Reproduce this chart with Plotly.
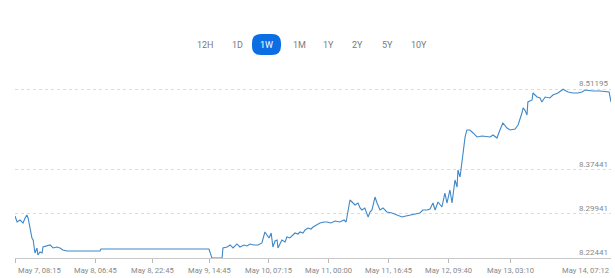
import plotly.graph_objects as go

# ---------------- data ----------------
times = [
    "2024-05-07 08:15", "2024-05-07 08:50", "2024-05-07 09:40", "2024-05-07 10:30",
    "2024-05-07 11:05", "2024-05-07 11:35", "2024-05-07 11:55", "2024-05-07 12:25",
    "2024-05-07 13:00", "2024-05-07 13:20", "2024-05-07 13:35", "2024-05-07 13:50",
    "2024-05-07 14:25", "2024-05-07 14:40", "2024-05-07 15:15", "2024-05-07 15:50",
    "2024-05-07 16:05", "2024-05-07 17:15", "2024-05-07 18:05", "2024-05-07 18:55",
    "2024-05-07 20:00", "2024-05-07 20:50", "2024-05-07 21:40", "2024-05-07 22:50",
    "2024-05-08 08:05", "2024-05-08 08:20", "2024-05-09 14:35", "2024-05-09 15:25",
    "2024-05-09 18:15", "2024-05-09 18:30", "2024-05-09 19:40", "2024-05-09 20:30",
    "2024-05-09 21:20", "2024-05-09 22:25", "2024-05-09 23:15", "2024-05-10 00:25",
    "2024-05-10 01:15", "2024-05-10 02:05", "2024-05-10 03:10", "2024-05-10 04:20",
    "2024-05-10 05:25", "2024-05-10 06:15", "2024-05-10 06:50", "2024-05-10 07:25",
    "2024-05-10 08:00", "2024-05-10 08:30", "2024-05-10 09:05", "2024-05-10 09:40",
    "2024-05-10 09:55", "2024-05-10 10:30", "2024-05-10 11:00", "2024-05-10 11:55",
    "2024-05-10 12:25", "2024-05-10 13:15", "2024-05-10 13:50", "2024-05-10 14:40",
    "2024-05-10 15:30", "2024-05-10 16:05", "2024-05-10 16:55", "2024-05-10 17:30",
    "2024-05-10 18:20", "2024-05-10 19:10", "2024-05-10 19:45", "2024-05-10 20:50",
    "2024-05-10 21:40", "2024-05-10 22:50", "2024-05-10 23:40", "2024-05-11 00:45",
    "2024-05-11 01:55", "2024-05-11 03:15", "2024-05-11 04:25", "2024-05-11 05:00",
    "2024-05-11 05:30", "2024-05-11 06:05", "2024-05-11 06:40", "2024-05-11 07:30",
    "2024-05-11 08:20", "2024-05-11 08:55", "2024-05-11 09:25", "2024-05-11 10:15",
    "2024-05-11 11:10", "2024-05-11 11:40", "2024-05-11 12:15", "2024-05-11 12:50",
    "2024-05-11 13:05", "2024-05-11 13:40", "2024-05-11 14:30", "2024-05-11 15:20",
    "2024-05-11 16:25", "2024-05-11 17:50", "2024-05-11 19:15", "2024-05-11 20:40",
    "2024-05-11 21:45", "2024-05-11 22:55", "2024-05-12 00:20", "2024-05-12 01:40",
    "2024-05-12 02:30", "2024-05-12 03:40", "2024-05-12 04:30", "2024-05-12 05:20",
    "2024-05-12 05:55", "2024-05-12 06:45", "2024-05-12 07:50", "2024-05-12 08:40",
    "2024-05-12 09:15", "2024-05-12 10:05", "2024-05-12 10:40", "2024-05-12 11:30",
    "2024-05-12 12:05", "2024-05-12 12:20", "2024-05-12 12:55", "2024-05-12 13:30",
    "2024-05-12 13:45", "2024-05-12 14:20", "2024-05-12 14:50", "2024-05-12 15:40",
    "2024-05-12 16:35", "2024-05-12 17:40", "2024-05-12 19:05", "2024-05-12 20:30",
    "2024-05-12 21:20", "2024-05-12 22:10", "2024-05-12 23:15", "2024-05-13 00:05",
    "2024-05-13 00:55", "2024-05-13 02:05", "2024-05-13 02:55", "2024-05-13 04:20",
    "2024-05-13 05:10", "2024-05-13 06:15", "2024-05-13 06:35", "2024-05-13 07:05",
    "2024-05-13 07:40", "2024-05-13 07:55", "2024-05-13 09:05", "2024-05-13 09:20",
    "2024-05-13 10:30", "2024-05-13 11:20", "2024-05-13 11:50", "2024-05-13 12:45",
    "2024-05-13 14:05", "2024-05-13 14:55", "2024-05-13 16:20", "2024-05-13 17:30",
    "2024-05-13 17:45", "2024-05-13 19:10", "2024-05-13 20:35", "2024-05-13 21:55",
    "2024-05-13 23:05", "2024-05-13 23:55", "2024-05-14 02:10", "2024-05-14 04:05",
    "2024-05-14 06:05", "2024-05-14 06:40", "2024-05-14 07:12",
]
rates = [
    8.2960, 8.2857, 8.2891, 8.2840,
    8.2926, 8.2977, 8.2926, 8.2755,
    8.2585, 8.2551, 8.2432, 8.2329,
    8.2415, 8.2295, 8.2346, 8.2329,
    8.2432, 8.2449, 8.2466, 8.2415,
    8.2432, 8.2415, 8.2380, 8.2363,
    8.2363, 8.2397, 8.2397, 8.22441,
    8.22441, 8.2415, 8.2432, 8.2466,
    8.2415, 8.2483, 8.2432, 8.2466,
    8.2449, 8.2483, 8.2466, 8.2466,
    8.2500, 8.2687, 8.2636, 8.2585,
    8.2670, 8.2432, 8.2534, 8.2551,
    8.2415, 8.2500, 8.2551, 8.2517,
    8.2602, 8.2585, 8.2619, 8.2670,
    8.2653, 8.2687, 8.2670, 8.2721,
    8.2755, 8.2738, 8.2772, 8.2806,
    8.2840, 8.2857, 8.2857, 8.2840,
    8.2874, 8.2857, 8.2891, 8.2857,
    8.3062, 8.3232, 8.3198, 8.3147,
    8.3181, 8.3096, 8.3062, 8.3096,
    8.2943, 8.3028, 8.3062, 8.3266,
    8.3283, 8.3181, 8.3062, 8.3096,
    8.3028, 8.3011, 8.2977, 8.2943,
    8.2960, 8.2977, 8.2994, 8.3011,
    8.3062, 8.3062, 8.3079, 8.3181,
    8.3062, 8.3198, 8.3113, 8.3351,
    8.3181, 8.3403, 8.3181, 8.3573,
    8.3454, 8.3743, 8.3624, 8.3914,
    8.4084, 8.4306, 8.4425, 8.4425,
    8.4374, 8.4306, 8.4323, 8.4306,
    8.4306, 8.4340, 8.4288, 8.4425,
    8.4544, 8.4459, 8.4425, 8.4442,
    8.4510, 8.4714, 8.4800, 8.4765,
    8.4680, 8.4902, 8.4936, 8.5055,
    8.4987, 8.4970, 8.4902, 8.4987,
    8.4970, 8.5021, 8.5055, 8.5106,
    8.51195, 8.5072, 8.5055, 8.5055,
    8.5072, 8.5106, 8.5089, 8.5089,
    8.5072, 8.5072, 8.4902,
]

x_tick_times = [
    "2024-05-07 08:15", "2024-05-08 06:45", "2024-05-08 22:45", "2024-05-09 14:45",
    "2024-05-10 07:15", "2024-05-11 00:00", "2024-05-11 16:45", "2024-05-12 09:40",
    "2024-05-13 03:10", "2024-05-14 07:12",
]
x_tick_labels = [
    "May 7, 08:15", "May 8, 06:45", "May 8, 22:45", "May 9, 14:45",
    "May 10, 07:15", "May 11, 00:00", "May 11, 16:45", "May 12, 09:40",
    "May 13, 03:10", "May 14, 07:12",
]
y_tick_values = [8.22441, 8.29941, 8.37441, 8.51195]
y_tick_labels = ["8.22441", "8.29941", "8.37441", "8.51195"]

range_buttons = ["12H", "1D", "1W", "1M", "1Y", "2Y", "5Y", "10Y"]
active_button = "1W"

# ---------------- layout constants ----------------
W, H = 615, 278
ML, MR, MT, MB = 15, 4, 70, 20
PW, PH = W - ML - MR, H - MT - MB
FONT = "Roboto, Liberation Sans, sans-serif"
GRAY = "#888888"


def px_to_paper(x, y):
    return (x - ML) / PW, (H - MB - y) / PH


fig = go.Figure()
fig.add_trace(go.Scatter(
    x=times, y=rates, mode="lines",
    line=dict(color="#3f88c8", width=1.1),
    showlegend=False,
))

annotations = []
for i, (t, lab) in enumerate(zip(x_tick_times, x_tick_labels)):
    anchor = "left" if i == 0 else ("right" if i == len(x_tick_labels) - 1 else "center")
    annotations.append(dict(
        x=t, xref="x", y=0, yref="paper", yanchor="top", xanchor=anchor,
        yshift=-6, xshift=1 if i == 0 else 0, text=lab, showarrow=False,
        font=dict(family=FONT, size=7.6, color=GRAY),
    ))

# range buttons (visual)
btn_centers = [205, 237, 266, 299, 328, 357, 387, 419]
shapes = []
for lab, cx in zip(range_buttons, btn_centers):
    px, py = px_to_paper(cx, 45)
    active = lab == active_button
    if active:
        x0, x1, y0, y1, r = 252, 281, 34, 55, 9
        p = lambda a, b: "%.5f,%.5f" % px_to_paper(a, b)
        path = ("M " + p(x0 + r, y0) + " L " + p(x1 - r, y0) + " Q " + p(x1, y0) + " " + p(x1, y0 + r)
                + " L " + p(x1, y1 - r) + " Q " + p(x1, y1) + " " + p(x1 - r, y1)
                + " L " + p(x0 + r, y1) + " Q " + p(x0, y1) + " " + p(x0, y1 - r)
                + " L " + p(x0, y0 + r) + " Q " + p(x0, y0) + " " + p(x0 + r, y0) + " Z")
        shapes.append(dict(type="path", xref="paper", yref="paper", path=path,
                           fillcolor="#0b6fe3", line=dict(width=0), layer="above"))
    annotations.append(dict(
        x=px, y=py, xref="paper", yref="paper", xanchor="center", yanchor="middle",
        text=lab, showarrow=False,
        font=dict(family=FONT, size=9, color="#ffffff" if active else "#7a7a7a"),
    ))

fig.update_layout(
    width=W, height=H,
    margin=dict(l=ML, r=MR, t=MT, b=MB),
    paper_bgcolor="white", plot_bgcolor="white",
    annotations=annotations, shapes=shapes,
    xaxis=dict(
        range=["2024-05-07 08:15", "2024-05-14 07:12"],
        tickvals=x_tick_times, showticklabels=False,
        ticks="outside", ticklen=4, tickcolor="#b8b8b8",
        showgrid=False, showline=True, linecolor="#c8c8c8", linewidth=1,
        zeroline=False, fixedrange=True,
    ),
    yaxis=dict(
        range=[8.22441, 8.54469],
        side="right", tickvals=y_tick_values, ticktext=y_tick_labels,
        ticklabelposition="inside top", ticks="",
        tickfont=dict(family=FONT, size=8, color=GRAY),
        showgrid=True, gridcolor="#dcdcdc", griddash="3px,3px", gridwidth=1,
        zeroline=False, showline=False, fixedrange=True,
    ),
    hovermode=False,
)

fig.write_html("out.html", config={"displayModeBar": False},
               post_script="document.body.style.margin='0';")
